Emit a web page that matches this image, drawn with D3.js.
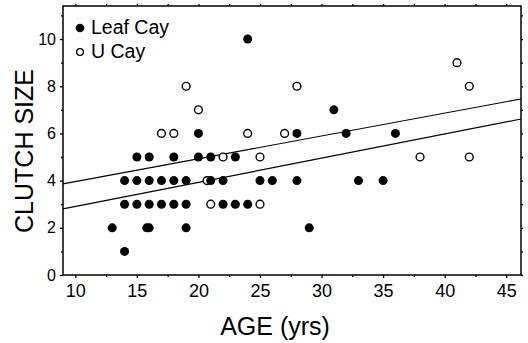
<!DOCTYPE html>
<html>
<head>
<meta charset="utf-8">
<script src="https://cdn.jsdelivr.net/npm/d3@7"></script>
<style>
  body { margin: 0; background: #fff; }
  svg { display: block; font-family: "Liberation Sans", Arial, Helvetica, sans-serif; }
</style>
</head>
<body>
<div id="chart"></div>
<script>
// Leaf Cay (filled) points: age, clutch size
const leafAge = [24, 31, 20, 28, 32, 36, 15, 16, 18, 20, 21, 23,
  14, 15, 16, 17, 18, 19, 21, 22, 25, 26, 28, 33, 35,
  14, 15, 16, 17, 18, 19, 22, 23, 24,
  13, 15.8, 16, 19, 29, 14];
const leafClutch = [10, 7, 6, 6, 6, 6, 5, 5, 5, 5, 5, 5,
  4, 4, 4, 4, 4, 4, 4, 4, 4, 4, 4, 4, 4,
  3, 3, 3, 3, 3, 3, 3, 3, 3,
  2, 2, 2, 2, 2, 1];

// U Cay (open) points
const uAge = [41, 19, 28, 42, 20, 17, 18, 24, 27, 22, 25, 38, 42, 20.7, 21, 25];
const uClutch = [9, 8, 8, 8, 7, 6, 6, 6, 6, 5, 5, 5, 5, 4, 3, 3];

// regression lines (age, clutch at both ends)
const upperLine = [[9, 3.86], [46.2, 7.46]];
const lowerLine = [[9, 2.80], [46.2, 6.61]];

const xTicks = [10, 15, 20, 25, 30, 35, 40, 45];
const xMinor = [12.5, 17.5, 22.5, 27.5, 32.5, 37.5, 42.5];
const yTicks = [0, 2, 4, 6, 8, 10];
const yMinor = [1, 3, 5, 7, 9, 11];

const legendNames = ['Leaf Cay', 'U Cay'];

const width = 528, height = 343;
const plotL = 63, plotR = 521, plotT = 6, plotB = 275;

const svg = d3.select('#chart').append('svg')
  .attr('width', width)
  .attr('height', height);

const x = d3.scaleLinear().domain([9, 46.2]).range([plotL, plotR]);
const y = d3.scaleLinear().domain([0, 11.4]).range([plotB, plotT]);

// Axes on all four sides, ticks pointing out
const fmt = d3.format('d');
svg.append('g')
  .attr('transform', `translate(0,${plotB})`)
  .call(d3.axisBottom(x).tickValues(xTicks).tickSize(3).tickPadding(6).tickFormat(fmt))
  .call(g => g.selectAll('text').attr('font-size', '18px').attr('fill', '#000'));
svg.append('g')
  .attr('transform', `translate(0,${plotB})`)
  .call(d3.axisBottom(x).tickValues(xMinor).tickSize(2).tickFormat(''));
svg.append('g')
  .attr('transform', `translate(0,${plotT})`)
  .call(d3.axisTop(x).tickValues(xTicks.concat(xMinor)).tickSize(2).tickFormat(''));

svg.append('g')
  .attr('transform', `translate(${plotL},0)`)
  .call(d3.axisLeft(y).tickValues(yTicks).tickSize(3).tickPadding(4).tickFormat(fmt))
  .call(g => g.selectAll('text').attr('font-size', '16px').attr('fill', '#000'));
svg.append('g')
  .attr('transform', `translate(${plotL},0)`)
  .call(d3.axisLeft(y).tickValues(yMinor).tickSize(2).tickFormat(''));
svg.append('g')
  .attr('transform', `translate(${plotR},0)`)
  .call(d3.axisRight(y).tickValues(yTicks.concat(yMinor)).tickSize(2).tickFormat(''));

svg.selectAll('.domain').remove();
svg.selectAll('.tick line').attr('stroke', '#000').attr('stroke-width', 1.3);

// Frame
svg.append('rect')
  .attr('x', plotL)
  .attr('y', plotT)
  .attr('width', plotR - plotL)
  .attr('height', plotB - plotT)
  .attr('fill', 'none')
  .attr('stroke', '#000')
  .attr('stroke-width', 1.5);

// Regression lines
const line = d3.line().x(d => x(d[0])).y(d => y(d[1]));
[upperLine, lowerLine].forEach(l => {
  svg.append('path')
    .attr('d', line(l))
    .attr('fill', 'none')
    .attr('stroke', '#000')
    .attr('stroke-width', 1.2);
});

// Open points (U Cay)
svg.append('g').selectAll('circle')
  .data(d3.zip(uAge, uClutch))
  .join('circle')
  .attr('cx', d => x(d[0]))
  .attr('cy', d => y(d[1]))
  .attr('r', 3.9)
  .attr('fill', '#fff')
  .attr('stroke', '#000')
  .attr('stroke-width', 1.4);

// Filled points (Leaf Cay)
svg.append('g').selectAll('circle')
  .data(d3.zip(leafAge, leafClutch))
  .join('circle')
  .attr('cx', d => x(d[0]))
  .attr('cy', d => y(d[1]))
  .attr('r', 4.5)
  .attr('fill', '#000');

// Legend
const legend = svg.append('g');
legend.append('circle')
  .attr('cx', 80).attr('cy', 28).attr('r', 4.3)
  .attr('fill', '#000');
legend.append('circle')
  .attr('cx', 80).attr('cy', 52).attr('r', 3.4)
  .attr('fill', '#fff').attr('stroke', '#000').attr('stroke-width', 1.3);
legend.selectAll('text')
  .data(legendNames)
  .join('text')
  .attr('x', 91)
  .attr('y', (d, i) => 34 + i * 24)
  .attr('font-size', '19.5px')
  .text(d => d);

// Axis titles
svg.append('text')
  .attr('x', 275)
  .attr('y', 335)
  .attr('text-anchor', 'middle')
  .attr('font-size', '25px')
  .text('AGE (yrs)');

svg.append('text')
  .attr('transform', 'translate(33,151) rotate(-90)')
  .attr('text-anchor', 'middle')
  .attr('font-size', '25px')
  .text('CLUTCH SIZE');
</script>
</body>
</html>
